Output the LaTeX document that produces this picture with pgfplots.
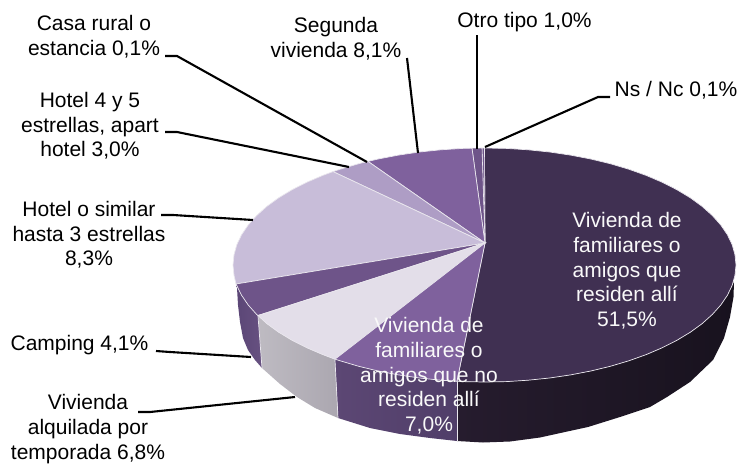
\documentclass[border=0pt]{standalone}
\usepackage{pgfplots}
\pgfplotsset{compat=1.18}
\usepackage{fontspec}
\setmainfont{Liberation Sans}
\definecolor{cDark}{HTML}{403052}
\definecolor{cPurple}{HTML}{7F619D}
\definecolor{cHotelS}{HTML}{C8BDD9}
\definecolor{cHotelF}{HTML}{AE9DC5}
\definecolor{cCamp}{HTML}{6E5489}
\definecolor{cLight}{HTML}{E3DEE9}
\definecolor{cEdge}{HTML}{EAE7EE}
\definecolor{sDarkL}{HTML}{261C2E}
\definecolor{sDarkR}{HTML}{18121E}
\definecolor{sResL}{HTML}{5C4774}
\definecolor{sResR}{HTML}{503E69}
\definecolor{sAlqL}{HTML}{BEBBC2}
\definecolor{sAlqR}{HTML}{ABA7B0}
\definecolor{sCampL}{HTML}{5B4676}
\definecolor{sCampR}{HTML}{675181}
\newcommand{\lab}[1]{\fontsize{21}{24.7}\selectfont #1}
\begin{document}
\begin{tikzpicture}
\useasboundingbox (0,0) rectangle (740pt,464pt);
\begin{axis}[at={(0,0)},anchor=south west,width=740pt,height=464pt,scale only axis,
  hide axis,clip=false,xmin=0,xmax=740,ymin=0,ymax=464,y dir=reverse]
% sides
\addplot[draw=none,left color=sDarkL,right color=sDarkR] coordinates {
(457,381.2)(462.6,381.6)(484.5,382)(506.4,381.6)(528.2,380.2)(549.6,378)(570.5,374.9)(590.8,371)(610.3,366.3)(628.8,360.8)(646.2,354.6)(662.3,347.7)(677.1,340.2)(690.5,332.1)(702.3,323.5)(712.4,314.4)(720.8,305)(727.4,295.3)(732.2,285.3)(734,282)
(733.5,297)(730,317)(724,338)(713,360)(690,382)(667,397)(650,407)(620,417)(588,427)(565,432)(540,437.5)(510,441.5)(483,442.5)(457,441)} --cycle;
\addplot[draw=none,left color=sResL,right color=sResR] coordinates {
(335,359.2)(340.2,360.8)(358.7,366.3)(378.2,371)(398.5,374.9)(419.4,378)(440.8,380.2)(457,381.2)
(457,441)(430,438)(400,434)(370,428)(338,418)} --cycle;
\addplot[draw=none,left color=sAlqL,right color=sAlqR] coordinates {
(258,315.5)(266.7,323.5)(278.5,332.1)(291.9,340.2)(306.7,347.7)(322.8,354.6)(335,359.2)
(338,418)(315,408)(297,397)(280,384)(262,368)} --cycle;
\addplot[draw=none,left color=sCampL,right color=sCampR] coordinates {
(236,284)(241.6,295.3)(248.2,305)(256.6,314.4)(258,315.5)
(262,368)(255,360)(248,350)(243,338)(240,322)(238,305)(237,288)} --cycle;
\addplot[cEdge,line width=0.7pt] coordinates {(258,316)(262,368)};
\addplot[cEdge,line width=0.7pt] coordinates {(335,360)(338,418)};
\addplot[cEdge,line width=0.7pt] coordinates {(457,381)(457,441)};
% tops
\addplot[fill=cDark,draw=cEdge,line width=0.7pt] coordinates {
(485,243)(457,381.2)(462.6,381.6)(484.5,382)(506.4,381.6)(528.2,380.2)(549.6,378)(570.5,374.9)(590.8,371)(610.3,366.3)(628.8,360.8)(646.2,354.6)(662.3,347.7)(677.1,340.2)(690.5,332.1)(702.3,323.5)(712.4,314.4)(720.8,305)(727.4,295.3)(732.2,285.3)(735,275.2)(736,265)
(735,254.8)(732.2,244.7)(727.4,234.7)(720.8,225)(712.4,215.6)(702.3,206.5)(690.5,197.9)(677.1,189.8)(662.3,182.3)(646.2,175.4)(628.8,169.2)(610.3,163.7)(590.8,159)(570.5,155.1)(549.6,152)(528.2,149.8)(506.4,148.4)(484.5,148)} --cycle;
\addplot[fill=cCamp,draw=cEdge,line width=0.6pt] coordinates {(485,243)(484.5,148)(482,148)} --cycle;
\addplot[fill=cCamp,draw=cEdge,line width=0.6pt] coordinates {(485,243)(482,148)(472,148.2)} --cycle;
\addplot[fill=cPurple,draw=cEdge,line width=0.7pt] coordinates {
(485,243)(472,148.2)(462.6,148.4)(440.8,149.8)(419.4,152)(398.5,155.1)(378.2,159)(368,161.4)} --cycle;
\addplot[fill=cHotelF,draw=cEdge,line width=0.7pt] coordinates {
(485,243)(368,161.4)(358.7,163.7)(340.2,169.2)(333,171.6)} --cycle;
\addplot[fill=cHotelS,draw=cEdge,line width=0.7pt] coordinates {
(485,243)(333,171.6)(322.8,175.4)(306.7,182.3)(291.9,189.8)(278.5,197.9)(266.7,206.5)(256.6,215.6)(248.2,225)(241.6,234.7)(236.8,244.7)(234,254.8)(233,265)(234,275.2)(236,284)} --cycle;
\addplot[fill=cCamp,draw=cEdge,line width=0.7pt] coordinates {
(485,243)(236,284)(241.6,295.3)(248.2,305)(256.6,314.4)(258,315.5)} --cycle;
\addplot[fill=cLight,draw=cEdge,line width=0.7pt] coordinates {
(485,243)(258,315.5)(266.7,323.5)(278.5,332.1)(291.9,340.2)(306.7,347.7)(322.8,354.6)(335,359.2)} --cycle;
\addplot[fill=cPurple,draw=cEdge,line width=0.7pt] coordinates {
(485,243)(335,359.2)(340.2,360.8)(358.7,366.3)(378.2,371)(398.5,374.9)(419.4,378)(440.8,380.2)(457,381.2)} --cycle;
% leader lines
\addplot[black,line width=2.1pt] coordinates {(165,56)(177,56)(367,162)};
\addplot[black,line width=2.1pt] coordinates {(165,132)(177,132)(349,167)};
\addplot[black,line width=2.1pt] coordinates {(161,215)(173,215)(253,220)};
\addplot[black,line width=2.1pt] coordinates {(156,351)(170,352)(251,357)};
\addplot[black,line width=2.1pt] coordinates {(138,412)(150,412)(295,397)};
\addplot[black,line width=2.1pt] coordinates {(407,58)(418,153)};
\addplot[black,line width=2.1pt] coordinates {(477,35)(477,149)};
\addplot[black,line width=2.1pt] coordinates {(610,97)(598,97)(485,147)};
% labels
\node[align=center,font=\lab{}] at (axis cs:94,37) {Casa rural o\\estancia 0,1\%};
\node[align=center,font=\lab{}] at (axis cs:90,126) {Hotel 4 y 5\\estrellas, apart\\hotel 3,0\%};
\node[align=center,font=\lab{}] at (axis cs:89,235) {Hotel o similar\\hasta 3 estrellas\\8,3\%};
\node[align=center,font=\lab{}] at (axis cs:79.5,345) {Camping 4,1\%};
\node[align=center,font=\lab{}] at (axis cs:88,429) {Vivienda\\alquilada por\\temporada 6,8\%};
\node[align=center,font=\lab{}] at (axis cs:336,39) {Segunda\\vivienda 8,1\%};
\node[align=center,font=\lab{}] at (axis cs:524.5,22) {Otro tipo 1,0\%};
\node[align=center,font=\lab{}] at (axis cs:676,90) {Ns / Nc 0,1\%};
\node[align=center,font=\lab{},text=white!95!gray] at (axis cs:627,271) {Vivienda de\\familiares o\\amigos que\\residen allí\\51,5\%};
\node[align=center,font=\lab{},text=white!95!gray] at (axis cs:429,376) {Vivienda de\\familiares o\\amigos que no\\residen allí\\7,0\%};
\end{axis}
\end{tikzpicture}
\end{document}
